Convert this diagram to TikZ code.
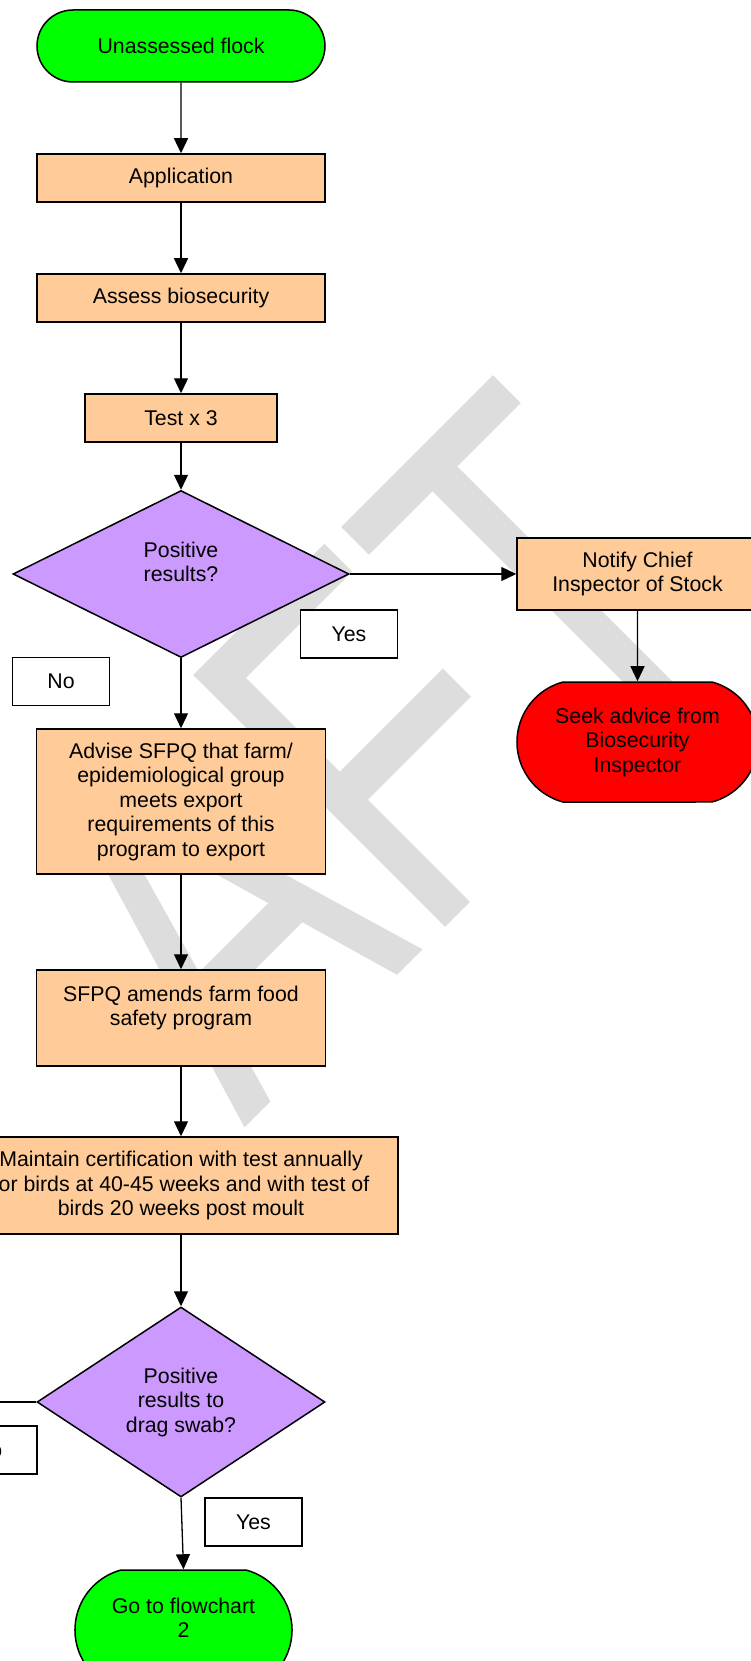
\documentclass[tikz,border=0pt]{standalone}
\usepackage{fontspec}
\setmainfont{Liberation Sans}
\usetikzlibrary{shapes.geometric,shapes.misc,arrows.meta}
\definecolor{peach}{HTML}{FFCC99}
\definecolor{lilac}{HTML}{CC99FF}
\definecolor{flockgreen}{HTML}{00FF00}
\definecolor{alarmred}{HTML}{FF0000}
\definecolor{wmgray}{HTML}{DDDDDD}
\begin{document}
\begin{tikzpicture}[x=1pt,y=-1pt,font=\fontsize{21.3}{24.5}\selectfont,
  >={Triangle[length=15pt,width=14pt]},
  box/.style={draw,line width=1.5pt,fill=peach,inner sep=0pt,align=center},
  terminal/.style={box,rounded rectangle},
  decision/.style={box,diamond,fill=lilac},
  answer/.style={draw,line width=1.3pt,fill=white,inner sep=0pt,minimum width=97pt,minimum height=48pt},
  flow/.style={->,line width=1.3pt}]
\clip (0,0) rectangle (751,1661);
\node[rotate=45,anchor=base west,inner sep=0pt,text=wmgray,font=\fontsize{380}{400}\selectfont] (watermark) at (244,1129) {\scalebox{1}[1.363]{AFT}};
\node[terminal,fill=flockgreen,minimum width=288pt,minimum height=72pt] (flock) at (181,46) {Unassessed flock};
\node[box,minimum width=288pt,minimum height=48pt] (application) at (181,178) {Application};
\node[box,minimum width=288pt,minimum height=48pt] (biosecurity) at (181,298) {Assess biosecurity};
\node[box,minimum width=192pt,minimum height=48pt] (test) at (181,418) {Test x 3};
\node[decision,minimum width=336pt,minimum height=167pt] (positive) at (181,574) {Positive\\results?\\~};
\node[box,minimum width=241pt,minimum height=72pt] (notify) at (637.5,574) {Notify Chief\\Inspector of Stock};
\node[terminal,rounded rectangle arc length=150,fill=alarmred,minimum width=241pt,minimum height=120pt] (advice) at (637.5,742) {Seek advice from\\Biosecurity\\Inspector};
\node[answer] (yesA) at (349,634) {Yes};
\node[answer] (noA) at (61,681.5) {No};
\node[box,minimum width=289pt,minimum height=145pt] (advise) at (181,801.5) {Advise SFPQ that farm/\\epidemiological group\\meets export\\requirements of this\\program to export};
\node[box,minimum width=289pt,minimum height=96pt] (amend) at (181,1018) {SFPQ amends farm food\\safety program\\~};
\node[box,minimum width=434pt,minimum height=97pt] (maintain) at (181,1185.5) {Maintain certification with test annually\\for birds at 40-45 weeks and with test of\\birds 20 weeks post moult};
\node[decision,minimum width=288pt,minimum height=190pt] (swab) at (181,1402) {Positive\\results to\\drag swab?};
\node[answer] (noB) at (-11.5,1450) {No};
\node[answer] (yesB) at (253.5,1522) {Yes};
\node[terminal,rounded rectangle arc length=150,fill=flockgreen,minimum width=217pt,minimum height=120pt] (flowchart) at (183.5,1630) {Go to flowchart\\2\\~};
\coordinate (exit) at (-20,1402);
\draw[flow] (flock) -- (application);
\draw[flow] (application) -- (biosecurity);
\draw[flow] (biosecurity) -- (test);
\draw[flow] (test) -- (positive);
\draw[flow] (positive) -- (notify);
\draw[flow] (notify) -- (advice);
\draw[flow] (positive) -- (advise);
\draw[flow] (advise) -- (amend);
\draw[flow] (amend) -- (maintain);
\draw[flow] (maintain) -- (swab);
\draw[flow] (swab.south) -- (flowchart.north);
\draw[line width=1.3pt] (swab.west) -- (exit);
\end{tikzpicture}
\end{document}
